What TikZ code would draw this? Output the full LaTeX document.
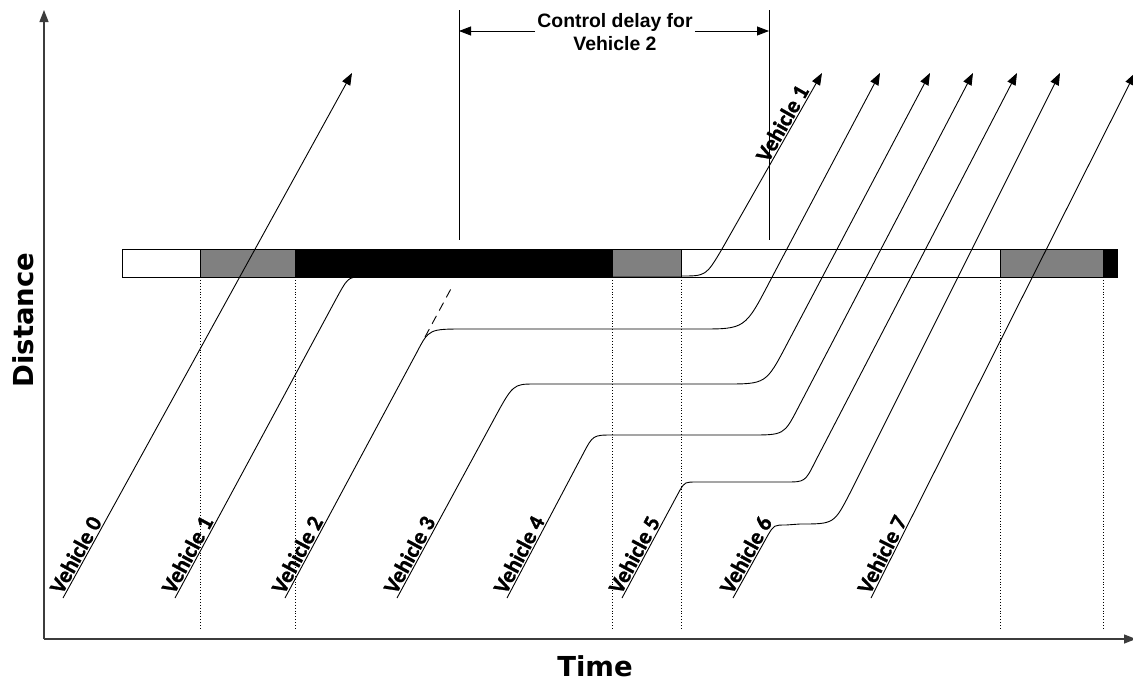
\documentclass[tikz,border=0pt]{standalone}
\usepackage{fontspec}
\usepackage{tikz}
\usetikzlibrary{arrows.meta}
\newfontfamily\axisfont{DejaVu Sans}
\newfontfamily\notefont{Liberation Sans}
\newfontfamily\vehfont{Carlito}[FakeBold=1.2]
\definecolor{phase-grey}{HTML}{808080}
\definecolor{axis-grey}{HTML}{3C3C3C}

\begin{document}
\begin{tikzpicture}[x=1pt, y=-1pt,
    traj/.style={line width=0.9pt},
    tip/.style={-{Triangle[length=12pt, width=9pt]}},
    vlabel/.style={sloped, anchor=south west, pos=0, inner sep=1.5pt,
                   font=\vehfont\bfseries\fontsize{22.5}{26}\selectfont}]

    \useasboundingbox (0,0) rectangle (1133,681);

    % axes
    \coordinate (origin) at (44,639);
    \coordinate (ytop) at (44,10);
    \coordinate (xend) at (1136,639);
    \draw[tip, line width=1.3pt, color=axis-grey] (origin) -- (ytop);
    \draw[tip, line width=1.3pt, color=axis-grey] (origin) -- (xend);
    \node[font=\axisfont\bfseries\fontsize{27.5}{33}\selectfont, rotate=90, anchor=base, inner sep=0pt] (dist) at (33,320) {Distance};
    \node[font=\axisfont\bfseries\fontsize{27.5}{33}\selectfont, anchor=base, inner sep=0pt] (time) at (595,676) {Time};

    % signal phases
    \begin{scope}[line width=0.8pt]
        \filldraw[fill=white] (122,249) rectangle (200,277);
        \filldraw[fill=phase-grey] (200,249) rectangle (295,277);
        \filldraw[fill=black] (295,249) rectangle (612,277);
        \filldraw[fill=phase-grey] (612,249) rectangle (681,277);
        \filldraw[fill=white] (681,249) rectangle (1000,277);
        \filldraw[fill=phase-grey] (1000,249) rectangle (1103,277);
        \filldraw[fill=black] (1103,249) rectangle (1117,277);
    \end{scope}

    % phase changes
    \foreach \x in {200,295,612,681,1000,1103}
        \draw[dotted, line width=0.9pt] (\x,277) -- (\x,630);

    % control delay
    \draw[line width=0.8pt] (459,10) -- (459,240);
    \draw[line width=0.8pt] (769,10) -- (769,240);
    \begin{scope}[every node/.style={anchor=base, inner sep=2pt,
                  font=\notefont\bfseries\fontsize{19.4}{23}\selectfont}]
        \node (ctrl) at (615,27) {Control delay for};
        \node (ctrlveh) at (615,50) {Vehicle 2};
    \end{scope}
    \coordinate (dl) at (459,31);
    \coordinate (dr) at (769,31);
    \draw[tip, line width=0.8pt] (ctrl.west |- dl) -- (dl);
    \draw[tip, line width=0.8pt] (ctrl.east |- dr) -- (dr);

    % trajectories
    \draw[traj, tip] (63,598) -- node[vlabel] {Vehicle 0} (352,73);

    \draw[traj] (175,598) -- node[vlabel] {Vehicle 1} (335,301)
        .. controls (348,277) .. (362,277) -- (681,277);
    \draw[traj, tip] (681,276) .. controls (706,276) .. (722,249)
        -- node[vlabel, pos=0.47] {Vehicle 1} (822,73);

    \draw[traj, tip] (285,598) -- node[vlabel] {Vehicle 2} (417,352)
        .. controls (429,329) .. (465,329) -- (700,329)
        .. controls (745,329) .. (770,281) -- (880,73);
    \draw[traj, dash pattern=on 9pt off 6pt] (425,337) -- (453,285);

    \draw[traj, tip] (397,598) -- node[vlabel] {Vehicle 3} (493,421)
        .. controls (513,384) .. (535,384) -- (725,384)
        .. controls (766,384) .. (787,344) -- (930,73);

    \draw[traj, tip] (507,598) -- node[vlabel] {Vehicle 4} (583,454)
        .. controls (593,435) .. (613,435) -- (750,435)
        .. controls (784,435) .. (798,408) -- (973,73);

    \draw[traj, tip] (622,598) -- node[vlabel] {Vehicle 5} (680,490)
        .. controls (685,482) .. (697,482) -- (785,482)
        .. controls (805,482) .. (815,462) -- (1017,73);

    \draw[traj, tip] (733,598) -- node[vlabel] {Vehicle 6} (768,535)
        .. controls (774,525) .. (786,525) -- (800,524)
        .. controls (834,524) .. (850,493) -- (1060,73);

    \draw[traj, tip] (871,598) -- node[vlabel] {Vehicle 7} (1135,73);

\end{tikzpicture}
\end{document}
